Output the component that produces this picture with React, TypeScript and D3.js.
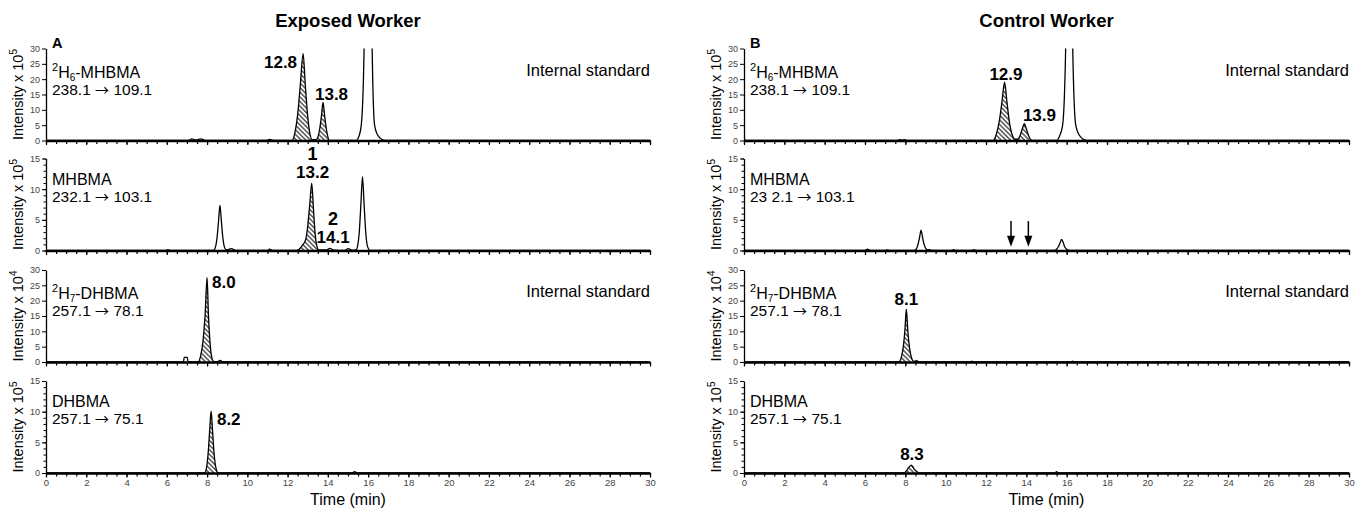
import React, { useEffect, useRef } from 'react';
import * as d3 from 'd3';

type Pt = [number, number];

// Chromatogram traces: [time (min), intensity]
// Exposed worker
const exposedIsMhbma: Pt[] = [
  [0, 0], [7.05, 0], [7.25, 0.5], [7.45, 0.15], [7.7, 0.55], [7.9, 0], [10.95, 0], [11.1, 0.35], [11.3, 0],
  [12.22, 0], [12.36, 2.5], [12.5, 8.5], [12.63, 18], [12.77, 28.3], [12.88, 18], [12.99, 8.5], [13.1, 2.5],
  [13.22, 0.3], [13.42, 0.3], [13.51, 1.2], [13.6, 4], [13.68, 8], [13.76, 12.4], [13.84, 8], [13.92, 4],
  [14.0, 1.2], [14.08, 0], [15.4, 0], [15.55, 1.5], [15.66, 5],
  [15.8, 30], [15.9, 120], [16.1, 120], [16.2, 30], [16.32, 5], [16.5, 1.5], [16.85, 0], [30, 0],
];
const exposedMhbma: Pt[] = [
  [0, 0], [5.95, 0], [6.05, 0.15], [6.2, 0], [8.32, 0], [8.42, 0.6], [8.5, 2.2], [8.57, 4.8], [8.64, 7.4],
  [8.71, 4.8], [8.78, 2.2], [8.86, 0.6], [8.95, 0.1], [9.2, 0.3], [9.45, 0], [11.0, 0], [11.1, 0.2], [11.25, 0],
  [12.45, 0], [12.6, 0.3], [12.75, 0.9], [12.9, 1.8], [13.0, 4], [13.1, 7.5], [13.2, 11], [13.28, 7],
  [13.36, 3], [13.45, 0.8], [13.55, 0.1], [13.95, 0.1], [14.1, 0.35], [14.3, 0.05],
  [14.85, 0], [15.0, 0.3], [15.2, 0.05], [15.4, 0.1], [15.48, 0.8], [15.56, 3], [15.64, 7.5], [15.72, 12],
  [15.8, 7.5], [15.88, 3], [15.96, 0.8], [16.1, 0], [30, 0],
];
const exposedIsDhbma: Pt[] = [
  [0, 0], [6.83, 0], [6.86, 1.5], [7.02, 1.5], [7.05, 0], [7.55, 0], [7.68, 2], [7.8, 7], [7.9, 15],
  [8.0, 27.5], [8.07, 15], [8.14, 7], [8.22, 2], [8.32, 0.2], [8.5, 0.1], [8.65, 0.5], [8.8, 0], [30, 0],
];
const exposedDhbma: Pt[] = [
  [0, 0], [7.88, 0], [7.98, 1], [8.06, 3.5], [8.13, 7], [8.2, 10.1], [8.27, 7], [8.34, 3.5], [8.43, 1],
  [8.55, 0], [15.2, 0], [15.33, 0.2], [15.45, 0], [30, 0],
];
// Control worker
const controlIsMhbma: Pt[] = [
  [0, 0], [7.6, 0], [7.72, 0.3], [7.85, 0.1], [7.95, 0.3], [8.1, 0], [11.7, 0], [11.8, 0.15], [11.9, 0],
  [12.35, 0], [12.5, 1.8], [12.65, 6], [12.79, 12.5], [12.92, 19], [13.04, 12.5], [13.16, 6], [13.3, 1.8],
  [13.45, 0.4], [13.55, 0.4], [13.65, 1], [13.74, 2.5], [13.82, 4.2], [13.9, 5.5], [13.98, 4.2],
  [14.06, 2.5], [14.15, 1], [14.28, 0], [15.5, 0], [15.65, 1.5], [15.8, 5],
  [15.95, 30], [16.05, 120], [16.2, 120], [16.3, 30], [16.45, 5], [16.65, 1.5], [17.0, 0], [30, 0],
];
const controlMhbma: Pt[] = [
  [0, 0], [6.0, 0], [6.12, 0.2], [6.25, 0], [7.0, 0], [7.1, 0.1], [7.2, 0], [8.45, 0], [8.55, 0.3],
  [8.63, 1], [8.71, 2.2], [8.78, 3.3], [8.85, 2.2], [8.93, 1], [9.02, 0.3], [9.1, 0.1], [9.2, 0.15],
  [9.35, 0], [10.3, 0], [10.4, 0.15], [10.5, 0], [11.3, 0], [11.4, 0.12], [11.5, 0], [15.4, 0],
  [15.5, 0.2], [15.6, 0.7], [15.68, 1.3], [15.75, 1.8], [15.83, 1.3], [15.9, 0.6], [16.0, 0.2], [16.15, 0], [30, 0],
];
const controlIsDhbma: Pt[] = [
  [0, 0], [7.68, 0], [7.8, 1.5], [7.9, 5], [7.98, 10.5], [8.05, 17.2], [8.12, 10.5], [8.2, 5], [8.3, 1.5],
  [8.42, 0.2], [8.55, 0.4], [8.7, 0], [11.2, 0], [11.3, 0.3], [11.4, 0], [16.2, 0], [16.3, 0.3], [16.4, 0], [30, 0],
];
const controlDhbma: Pt[] = [
  [0, 0], [7.95, 0], [8.1, 0.6], [8.3, 1.3], [8.45, 0.6], [8.55, 0.3], [8.7, 0],
  [15.4, 0], [15.5, 0.2], [15.6, 0], [30, 0],
];

const exposedTraces = [exposedIsMhbma, exposedMhbma, exposedIsDhbma, exposedDhbma];
const controlTraces = [controlIsMhbma, controlMhbma, controlIsDhbma, controlDhbma];

const yMax = [30, 15, 30, 15];
const yPower = ['5', '5', '4', '5'];
const compounds = [
  { sup: '2', base: 'H', sub: '6', rest: '-MHBMA' },
  { sup: '', base: 'MHBMA', sub: '', rest: '' },
  { sup: '2', base: 'H', sub: '7', rest: '-DHBMA' },
  { sup: '', base: 'DHBMA', sub: '', rest: '' },
];
// transitions: [precursor, product]
const exposedTransitions: [string, string][] = [['238.1', '109.1'], ['232.1', '103.1'], ['257.1', '78.1'], ['257.1', '75.1']];
const controlTransitions: [string, string][] = [['238.1', '109.1'], ['23 2.1', '103.1'], ['257.1', '78.1'], ['257.1', '75.1']];
const isInternalStd = [true, false, true, false];

// hatched (integrated) time ranges per row
const exposedHatch: Pt[][] = [[[12.2, 14.3]], [[12.5, 13.6]], [[7.5, 8.4]], [[7.85, 8.6]]];
const controlHatch: Pt[][] = [[[12.35, 14.4]], [], [[7.65, 8.45]], [[7.95, 8.7]]];

type Lbl = { row: number; text: string; t: number; v: number; anchor: string; size?: number };
const exposedLabels: Lbl[] = [
  { row: 0, text: '12.8', t: 12.47, v: 23.6, anchor: 'end' },
  { row: 0, text: '13.8', t: 13.36, v: 13.2, anchor: 'start' },
  { row: 1, text: '1', t: 13.24, v: 14.7, anchor: 'middle', size: 18 },
  { row: 1, text: '13.2', t: 13.24, v: 11.8, anchor: 'middle' },
  { row: 1, text: '2', t: 14.26, v: 4.2, anchor: 'middle', size: 18 },
  { row: 1, text: '14.1', t: 14.26, v: 1.2, anchor: 'middle' },
  { row: 2, text: '8.0', t: 8.25, v: 24.1, anchor: 'start' },
  { row: 3, text: '8.2', t: 8.49, v: 7.8, anchor: 'start' },
];
const controlLabels: Lbl[] = [
  { row: 0, text: '12.9', t: 12.99, v: 19.7, anchor: 'middle' },
  { row: 0, text: '13.9', t: 13.83, v: 6.4, anchor: 'start' },
  { row: 2, text: '8.1', t: 8.05, v: 18.6, anchor: 'middle' },
  { row: 3, text: '8.3', t: 8.33, v: 2.1, anchor: 'middle' },
];
const controlArrows = [13.24, 14.1]; // row 1
const arrowSpan: Pt = [4.8, 0.6];

const timeTicks = d3.range(0, 31, 2);
const timeMinor = d3.range(0, 30.01, 0.5);

const W = 1370, H = 512;
const ROW_TOP = [48.5, 158.5, 270, 381];
const ROW_H = 92;
const FONT = 'Liberation Sans, Arial, Helvetica, sans-serif';

const columns = [
  { x0: 46, x1: 650, title: 'Exposed Worker', letter: 'A', traces: exposedTraces, hatch: exposedHatch, labels: exposedLabels, transitions: exposedTransitions, arrows: [] as number[] },
  { x0: 744, x1: 1349, title: 'Control Worker', letter: 'B', traces: controlTraces, hatch: controlHatch, labels: controlLabels, transitions: controlTransitions, arrows: controlArrows },
];

export default function App() {
  const ref = useRef<SVGSVGElement>(null);

  useEffect(() => {
    const svg = d3.select(ref.current);
    svg.selectAll('*').remove();
    svg.attr('font-family', FONT);

    const defs = svg.append('defs');
    const pat = defs.append('pattern').attr('id', 'hatch').attr('patternUnits', 'userSpaceOnUse')
      .attr('width', 3.3).attr('height', 3.3).attr('patternTransform', 'rotate(45)');
    pat.append('rect').attr('width', 3.3).attr('height', 3.3).attr('fill', '#fff');
    pat.append('line').attr('x1', 0).attr('x2', 3.3).attr('y1', 1.65).attr('y2', 1.65)
      .attr('stroke', '#000').attr('stroke-width', 1);

    columns.forEach((col, ci) => {
      const x = d3.scaleLinear().domain([0, 30]).range([col.x0, col.x1]);
      const cx = (col.x0 + col.x1) / 2;

      // Title and panel letter
      svg.append('text').attr('x', cx).attr('y', 27).attr('text-anchor', 'middle')
        .attr('font-size', 18.5).attr('font-weight', 'bold').text(col.title);
      svg.append('text').attr('x', col.x0 + 6).attr('y', 48).attr('font-size', 14.5)
        .attr('font-weight', 'bold').text(col.letter);

      col.traces.forEach((trace, r) => {
        const top = ROW_TOP[r], bottom = top + ROW_H;
        const y = d3.scaleLinear().domain([0, yMax[r]]).range([bottom, top]);
        const clipId = `clip-${ci}-${r}`;
        defs.append('clipPath').attr('id', clipId).append('rect')
          .attr('x', col.x0).attr('y', top).attr('width', col.x1 - col.x0).attr('height', ROW_H + 3);

        const line = d3.line<Pt>().x(d => x(d[0])).y(d => y(d[1])).curve(d3.curveMonotoneX);
        const area = d3.area<Pt>().x(d => x(d[0])).y0(y(0)).y1(d => y(d[1])).curve(d3.curveMonotoneX);

        const g = svg.append('g').attr('clip-path', `url(#${clipId})`);

        // hatched areas
        const ranges = col.hatch[r];
        if (ranges.length) {
          const hId = `hatch-${ci}-${r}`;
          const cp = defs.append('clipPath').attr('id', hId);
          ranges.forEach(([t0, t1]) => {
            cp.append('rect').attr('x', x(t0)).attr('y', top).attr('width', x(t1) - x(t0)).attr('height', ROW_H);
          });
          g.append('g').attr('clip-path', `url(#${hId})`).append('path')
            .attr('d', area(trace)).attr('fill', 'url(#hatch)');
        }
        g.append('path').attr('d', line(trace)).attr('fill', 'none')
          .attr('stroke', '#000').attr('stroke-width', 1.3).attr('stroke-linejoin', 'round');

        // Y axis
        const yAxis = svg.append('g').attr('transform', `translate(${col.x0},0)`)
          .call(d3.axisLeft(y).tickValues(d3.range(0, yMax[r] + 1, 5)).tickSize(4).tickSizeOuter(0).tickPadding(2));
        yAxis.select('.domain').attr('stroke-width', 1.3);
        yAxis.selectAll('.tick line').attr('stroke-width', 1);
        yAxis.selectAll('.tick text').attr('font-size', 9).attr('fill', '#444').attr('font-family', FONT);
        if (yMax[r] === 15) {
          const yMin = svg.append('g').attr('transform', `translate(${col.x0},0)`)
            .call(d3.axisLeft(y).tickValues(d3.range(0, yMax[r] + 0.01, 1)).tickSize(2.5).tickSizeOuter(0).tickFormat(() => ''));
          yMin.select('.domain').remove();
        }

        // X axis
        const xMin = svg.append('g').attr('transform', `translate(0,${bottom})`)
          .call(d3.axisBottom(x).tickValues(timeMinor).tickSize(3.5).tickSizeOuter(0).tickFormat(() => ''));
        xMin.select('.domain').remove();
        xMin.selectAll('.tick line').attr('stroke-width', 1.2);
        const xAxis = svg.append('g').attr('transform', `translate(0,${bottom})`)
          .call(d3.axisBottom(x).tickValues(timeTicks).tickSize(4.5).tickSizeOuter(0).tickPadding(2)
            .tickFormat(r === 3 ? (d => String(d)) : () => ''));
        xAxis.select('.domain').attr('stroke-width', 2.3);
        xAxis.selectAll('.tick line').attr('stroke-width', 1.2);
        xAxis.selectAll('.tick text').attr('font-size', 9.5).attr('fill', '#444').attr('font-family', FONT);

        // Y label
        const yl = svg.append('text').attr('font-size', 14.5).attr('text-anchor', 'middle')
          .attr('transform', `translate(${col.x0 - 23},${(top + bottom) / 2}) rotate(-90)`);
        yl.append('tspan').text('Intensity x 10');
        yl.append('tspan').attr('font-size', 10).attr('dy', -6).text(yPower[r]);

        // Compound labels
        const cmp = compounds[r];
        const line1 = top + (cmp.sup ? 29 : 26);
        const t1 = svg.append('text').attr('x', col.x0 + 6).attr('y', line1).attr('font-size', 16);
        if (cmp.sup) t1.append('tspan').attr('font-size', 11).attr('dy', -7).text(cmp.sup);
        t1.append('tspan').attr('dy', cmp.sup ? 7 : 0).text(cmp.base);
        if (cmp.sub) t1.append('tspan').attr('font-size', 10).attr('dy', 3).text(cmp.sub);
        if (cmp.rest) t1.append('tspan').attr('dy', cmp.sub ? -3 : 0).text(cmp.rest);
        const [pre, prod] = col.transitions[r];
        const t2 = svg.append('text').attr('x', col.x0 + 6).attr('y', line1 + 17).attr('font-size', 15.5);
        t2.append('tspan').text(pre + ' ');
        t2.append('tspan').attr('font-family', 'Noto Sans CJK JP').attr('font-size', 14).text('\u2192');
        t2.append('tspan').text(' ' + prod);

        if (isInternalStd[r]) {
          svg.append('text').attr('x', x(30)).attr('y', top + 27).attr('text-anchor', 'end')
            .attr('font-size', 16.5).text('Internal standard');
        }

        // Peak labels
        col.labels.filter(l => l.row === r).forEach(l => {
          svg.append('text').attr('x', x(l.t)).attr('y', y(l.v)).attr('text-anchor', l.anchor)
            .attr('font-size', l.size ?? 17).attr('font-weight', 'bold').text(l.text);
        });

        // Arrows
        if (r === 1) {
          col.arrows.forEach(t => {
            const ax = x(t), yTop = y(arrowSpan[0]), yTip = y(arrowSpan[1]);
            svg.append('line').attr('x1', ax).attr('x2', ax).attr('y1', yTop).attr('y2', yTip - 8)
              .attr('stroke', '#000').attr('stroke-width', 1.5);
            svg.append('path').attr('d', `M${ax - 4},${yTip - 11} L${ax + 4},${yTip - 11} L${ax},${yTip} Z`)
              .attr('fill', '#000');
          });
        }
      });

      svg.append('text').attr('x', cx).attr('y', 505).attr('text-anchor', 'middle')
        .attr('font-size', 16).text('Time (min)');
    });
  }, []);

  return (
    <svg ref={ref} width={W} height={H}
      style={{ position: 'absolute', left: 0, top: 0, background: '#fff', display: 'block' }} />
  );
}
